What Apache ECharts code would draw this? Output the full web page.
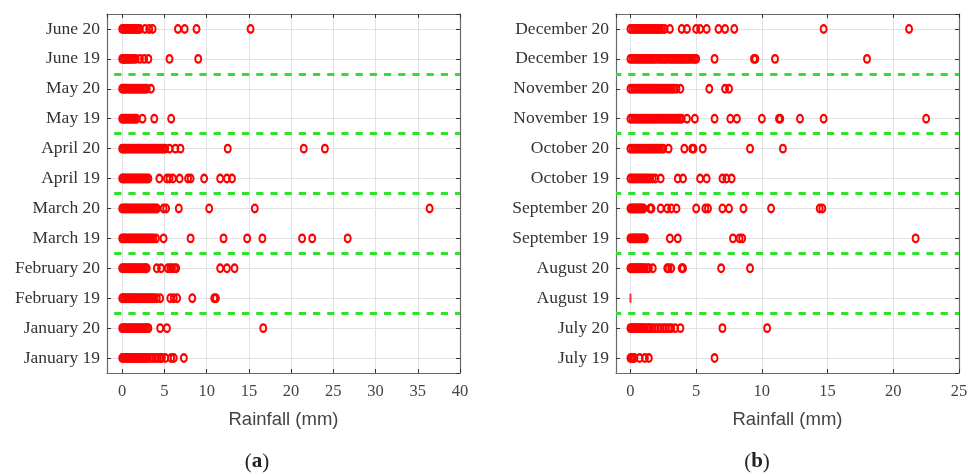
<!DOCTYPE html>
<html>
<head>
<meta charset="utf-8">
<script src="https://cdn.jsdelivr.net/npm/echarts@6/dist/echarts.min.js"></script>
<style>
  html, body { margin: 0; padding: 0; background: #ffffff; }
  #chart { width: 976px; height: 476px; }
</style>
</head>
<body>
<div id="chart"></div>
<script>
// Daily rainfall per month, 2019 and 2020 (mm); rows listed bottom to top.

// Panel (a): January to June
const rowsA = ['January 19', 'January 20', 'February 19', 'February 20', 'March 19', 'March 20',
               'April 19', 'April 20', 'May 19', 'May 20', 'June 19', 'June 20'];
const jan19 = [0,0.2,0.4,0.5,0.7,0.9,1.1,1.3,1.5,1.6,1.8,2.0,2.2,2.4,2.6,2.8,3.0,3.3,3.6,3.9,4.2,4.5,4.7,5.1,5.8,6.1,7.3];
const jan20 = [0,0.2,0.3,0.5,0.7,0.9,1.1,1.2,1.4,1.6,1.8,2.0,2.2,2.4,2.6,2.8,3.0,3.1,4.5,5.3,16.7];
const feb19 = [0,0.2,0.3,0.5,0.7,0.9,1.1,1.3,1.4,1.6,1.8,2.0,2.2,2.4,2.6,2.8,3.0,3.2,3.4,3.6,3.8,4.1,4.5,5.7,6.1,6.5,8.3,10.9,11.1];
const feb20 = [0,0.2,0.3,0.5,0.7,0.9,1.0,1.2,1.4,1.6,1.8,2.0,2.2,2.4,2.6,2.8,2.9,4.1,4.6,5.4,5.7,5.9,6.2,6.4,11.6,12.4,13.3];
const mar19 = [0,0.2,0.3,0.5,0.7,0.9,1.1,1.3,1.5,1.7,1.9,2.1,2.3,2.5,2.7,2.9,3.1,3.3,3.5,3.7,4.0,4.9,8.1,12.0,14.8,16.6,21.3,22.5,26.7];
const mar20 = [0,0.2,0.4,0.5,0.7,0.9,1.1,1.3,1.5,1.7,1.9,2.1,2.3,2.5,2.7,2.9,3.1,3.3,3.5,3.7,3.9,4.1,4.9,5.2,6.7,10.3,15.7,36.4];
const apr19 = [0,0.2,0.3,0.5,0.7,0.9,1.1,1.3,1.5,1.7,1.9,2.1,2.3,2.5,2.7,2.9,3.1,4.4,5.3,5.6,6.0,6.8,7.8,8.1,9.7,11.6,12.4,13.0];
const apr20 = [0,0.2,0.3,0.5,0.7,0.9,1.1,1.3,1.5,1.7,1.9,2.1,2.3,2.5,2.7,2.9,3.1,3.3,3.5,3.7,3.9,4.1,4.3,4.5,4.7,4.9,5.1,5.6,6.3,6.9,12.5,21.5,24.0];
const may19 = [0,0.2,0.3,0.5,0.7,0.9,1.1,1.3,1.5,1.7,2.4,3.8,5.8];
const may20 = [0,0.2,0.3,0.5,0.7,0.9,1.1,1.3,1.5,1.7,1.9,2.1,2.3,2.5,2.7,2.9,3.4];
const jun19 = [0,0.2,0.3,0.5,0.7,0.9,1.1,1.3,1.6,2.1,2.6,3.1,5.6,9.0];
const jun20 = [0,0.2,0.3,0.5,0.7,0.9,1.1,1.3,1.5,1.7,1.9,2.1,2.7,3.2,3.6,6.6,7.4,8.8,15.2];
const valuesA = [jan19, jan20, feb19, feb20, mar19, mar20, apr19, apr20, may19, may20, jun19, jun20];

// Panel (b): July to December
const rowsB = ['July 19', 'July 20', 'August 19', 'August 20', 'September 19', 'September 20',
               'October 19', 'October 20', 'November 19', 'November 20', 'December 19', 'December 20'];
const jul19 = [0,0.1,0.2,0.3,0.7,1.1,1.4,6.4];
const jul20 = [0,0.1,0.2,0.3,0.4,0.5,0.6,0.7,0.8,0.9,1.0,1.1,1.3,1.4,1.5,1.7,1.9,2.1,2.3,2.5,2.7,2.9,3.1,3.4,3.8,7.0,10.4];
const aug19 = [0];
const aug20 = [0,0.1,0.2,0.3,0.4,0.5,0.6,0.7,0.8,0.9,1.0,1.1,1.3,1.4,1.7,2.8,2.9,3.1,3.9,4.0,6.9,9.1];
const sep19 = [0,0.1,0.2,0.3,0.4,0.5,0.6,0.7,0.8,0.9,1.0,1.1,3.0,3.6,7.8,8.3,8.5,21.7];
const sep20 = [0,0.1,0.2,0.3,0.4,0.5,0.6,0.7,0.8,0.9,1.0,1.5,1.6,2.3,2.8,3.1,3.5,5.0,5.7,5.9,7.0,7.5,8.6,10.7,14.4,14.6];
const oct19 = [0,0.15,0.3,0.45,0.6,0.75,0.9,1.05,1.2,1.35,1.5,1.7,1.9,2.3,3.6,4.0,5.3,5.8,7.0,7.3,7.7];
const oct20 = [0,0.15,0.3,0.45,0.6,0.75,0.9,1.05,1.2,1.35,1.5,1.65,1.8,1.95,2.1,2.25,2.4,2.5,2.9,4.1,4.7,4.8,5.5,9.1,11.6];
const nov19 = [0,0.15,0.3,0.45,0.6,0.75,0.9,1.05,1.2,1.35,1.5,1.65,1.8,1.95,2.1,2.25,2.4,2.55,2.7,2.85,3.0,3.15,3.3,3.45,3.6,3.75,3.9,4.3,4.9,6.4,7.6,8.1,10.0,11.3,11.4,12.9,14.7,22.5];
const nov20 = [0,0.15,0.3,0.45,0.6,0.75,0.9,1.05,1.2,1.35,1.5,1.65,1.8,1.95,2.1,2.25,2.4,2.55,2.7,2.85,3.0,3.15,3.3,3.5,3.8,6.0,7.2,7.5];
const dec19 = [0,0.15,0.3,0.45,0.6,0.75,0.9,1.05,1.2,1.35,1.5,1.65,1.8,2.0,2.2,2.35,2.5,2.65,2.8,3.0,3.15,3.3,3.45,3.6,3.75,3.9,4.05,4.2,4.35,4.5,4.7,4.85,5.0,6.4,9.4,9.5,11.0,18.0];
const dec20 = [0,0.15,0.3,0.45,0.6,0.75,0.9,1.05,1.2,1.35,1.5,1.65,1.8,1.95,2.1,2.25,2.4,2.6,3.0,3.9,4.3,5.0,5.3,5.8,6.7,7.2,7.9,14.7,21.2];
const valuesB = [jul19, jul20, aug19, aug20, sep19, sep20, oct19, oct20, nov19, nov20, dec19, dec20];

// Month separators (between the two years of each month)
const monthBreaks = [2.5, 4.5, 6.5, 8.5, 10.5];

// x-axis ranges (mm)
const rangeA = { min: -1.8, max: 40 };
const rangeB = { min: -1.1, max: 25 };

const RED = '#ff0000';
const GREEN = '#2fe02f';
const FRAME = '#6a6a6a';
const GRIDC = '#e2e2e2';
const SERIF = '"Liberation Serif", "Times New Roman", serif';
const ELLIPSE = 'path://M0,-6A5,6 0 1,1 0,6A5,6 0 1,1 0,-6Z';

function toPoints(values, skipRows) {
  const pts = [];
  values.forEach((row, i) => {
    if (skipRows && skipRows.includes(i)) return;
    row.forEach(v => pts.push([v, i + 1]));
  });
  return pts;
}

function xAxes(grid, range) {
  const common = {
    gridIndex: grid, type: 'value', min: range.min, max: range.max,
    splitNumber: grid === 0 ? 8 : 5,
    axisLine: { show: true, onZero: false, lineStyle: { color: FRAME, width: 1.2 } },
    axisTick: { show: true, inside: true, length: 4, lineStyle: { color: '#333' } }
  };
  return [
    Object.assign({}, common, {
      position: 'bottom',
      axisLabel: {
        show: true, margin: 10, showMinLabel: false, color: '#444',
        fontFamily: SERIF, fontSize: 16.5,
        formatter: v => (Number.isInteger(v) && v >= 0 ? String(v) : '')
      },
      splitLine: { show: true, lineStyle: { color: GRIDC, width: 1 } },
      name: 'Rainfall (mm)', nameLocation: 'middle', nameGap: 37,
      nameTextStyle: { fontFamily: '"Liberation Sans", Arial, sans-serif', fontSize: 18.5, color: '#444' }
    }),
    Object.assign({}, common, {
      position: 'top',
      axisLabel: { show: false }, splitLine: { show: false }
    })
  ];
}

function yAxes(grid, rows) {
  const common = {
    gridIndex: grid, type: 'value', min: 0.5, max: 12.5, splitNumber: 12,
    axisLine: { show: true, onZero: false, lineStyle: { color: FRAME, width: 1.2 } },
    axisTick: { show: true, inside: true, length: 4, lineStyle: { color: '#333' } }
  };
  return [
    Object.assign({}, common, {
      position: 'left',
      axisLabel: {
        show: true, margin: 7, color: '#333', fontFamily: SERIF, fontSize: 17.5,
        showMinLabel: false, showMaxLabel: false,
        formatter: v => (Number.isInteger(v) ? (rows[v - 1] || '') : '')
      },
      splitLine: { show: true, lineStyle: { color: GRIDC, width: 1 } }
    }),
    Object.assign({}, common, {
      position: 'right',
      axisLabel: { show: false }, splitLine: { show: false }
    })
  ];
}

function scatter(axisIdx, data, offset) {
  return {
    type: 'scatter', xAxisIndex: axisIdx, yAxisIndex: axisIdx, data: data,
    symbol: ELLIPSE, symbolSize: [6, 7.6],
    itemStyle: { color: 'rgba(0,0,0,0)', borderColor: RED, borderWidth: 2.1, opacity: 1 },
    emphasis: { disabled: true }, silent: true, animation: false, z: 3,
    markLine: {
      silent: true, symbol: 'none', animation: false,
      label: { show: false },
      lineStyle: { color: GREEN, width: 3, type: [7.2, 7], dashOffset: offset },
      data: monthBreaks.map(b => ({ yAxis: b }))
    }
  };
}

const chart = echarts.init(document.getElementById('chart'), null, { renderer: 'canvas' });

const option = {
  backgroundColor: '#ffffff',
  animation: false,
  grid: [
    { left: 107, top: 14, width: 353, height: 359, containLabel: false },
    { left: 616, top: 14, width: 343, height: 359, containLabel: false }
  ],
  xAxis: [...xAxes(0, rangeA), ...xAxes(1, rangeB)],
  yAxis: [...yAxes(0, rowsA), ...yAxes(1, rowsB)],
  series: [
    scatter(0, toPoints(valuesA), 7),
    scatter(2, toPoints(valuesB, [2]), 2),
    {
      // August 2019: a single zero-rainfall tick
      type: 'scatter', xAxisIndex: 2, yAxisIndex: 2,
      data: aug19.map(v => [v, 3]),
      symbol: 'rect', symbolSize: [2, 9],
      itemStyle: { color: RED }, silent: true, z: 3
    }
  ],
  graphic: [
    {
      type: 'text', x: 257, y: 462,
      style: {
        text: '{p|(}{b|a}{p|)}', align: 'center', verticalAlign: 'middle',
        rich: {
          p: { fontFamily: SERIF, fontSize: 21, fill: '#222' },
          b: { fontFamily: SERIF, fontSize: 21, fontWeight: 'bold', fill: '#222' }
        }
      }
    },
    {
      type: 'text', x: 757, y: 462,
      style: {
        text: '{p|(}{b|b}{p|)}', align: 'center', verticalAlign: 'middle',
        rich: {
          p: { fontFamily: SERIF, fontSize: 21, fill: '#222' },
          b: { fontFamily: SERIF, fontSize: 21, fontWeight: 'bold', fill: '#222' }
        }
      }
    }
  ]
};

chart.setOption(option);
</script>
</body>
</html>
